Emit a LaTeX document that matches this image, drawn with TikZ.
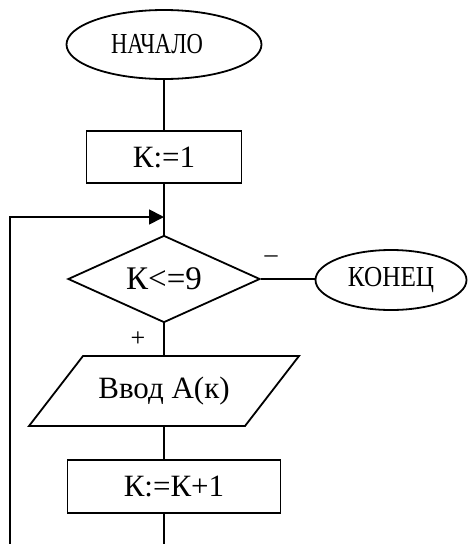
\documentclass[tikz,border=0pt]{standalone}
\usepackage{fontspec}
\setmainfont{Liberation Serif}
\newfontfamily\narrowserif[FakeStretch=0.78]{Liberation Serif}
\newfontfamily\semiserif[FakeStretch=0.87]{Liberation Serif}
\usetikzlibrary{shapes.geometric,arrows.meta}

\begin{document}
\begin{tikzpicture}[x=1pt,y=-1pt,
  line width=1.8pt,
  every node/.style={font=\fontsize{31}{34}\selectfont},
  terminal/.style={draw, ellipse, inner sep=0pt},
  procbox/.style={draw, rectangle, inner sep=0pt},
  decision/.style={draw, diamond, inner sep=0pt, shape aspect=2.2,
    minimum width=192pt, minimum height=87pt},
  loopflow/.style={-{Triangle[length=15pt,width=15pt]}},
  sign/.style={font=\fontsize{26}{28}\selectfont}]

\useasboundingbox (0,0) rectangle (467,544);

% blocks
\node[terminal, minimum width=195pt, minimum height=69pt,
  font=\narrowserif\fontsize{29}{32}\selectfont] (start) at (164,44.5) {НАЧАЛО\kern14pt};
\node[procbox, minimum width=155pt, minimum height=52pt] (init) at (164,157) {К:=1};
\node[decision, font=\fontsize{33}{36}\selectfont] (cond) at (164,279) {К<=9};
\node[terminal, minimum width=151pt, minimum height=60pt,
  font=\semiserif\fontsize{29}{32}\selectfont] (finish) at (391,280) {КОНЕЦ};
\node[inner sep=0pt, minimum width=162pt, minimum height=70pt] (inp) at (164,391) {Ввод А(к)};
\draw (83,356) -- (299,356) -- (245,426) -- (29,426) -- cycle;
\node[procbox, minimum width=213pt, minimum height=53pt] (inc) at (174,486.5) {К:=К+1};

% branch signs
\node[sign] (minus) at (271,259) {–};
\node[sign] (plus) at (138,339) {+};

% connectors
\coordinate (join) at (164,217);
\coordinate (bottom) at (164,544);
\coordinate (loopbase) at (10,544);
\draw (start) -- (init);
\draw (init.south) -- (cond.north);
\draw (cond.east) -- (cond.east -| finish.west);
\draw (cond.south) -- (inp.north);
\draw (inp.south) -- (inp.south |- inc.north);
\draw (inp.south |- inc.south) -- (bottom);
\draw[loopflow] (loopbase) |- (join);
\end{tikzpicture}
\end{document}
